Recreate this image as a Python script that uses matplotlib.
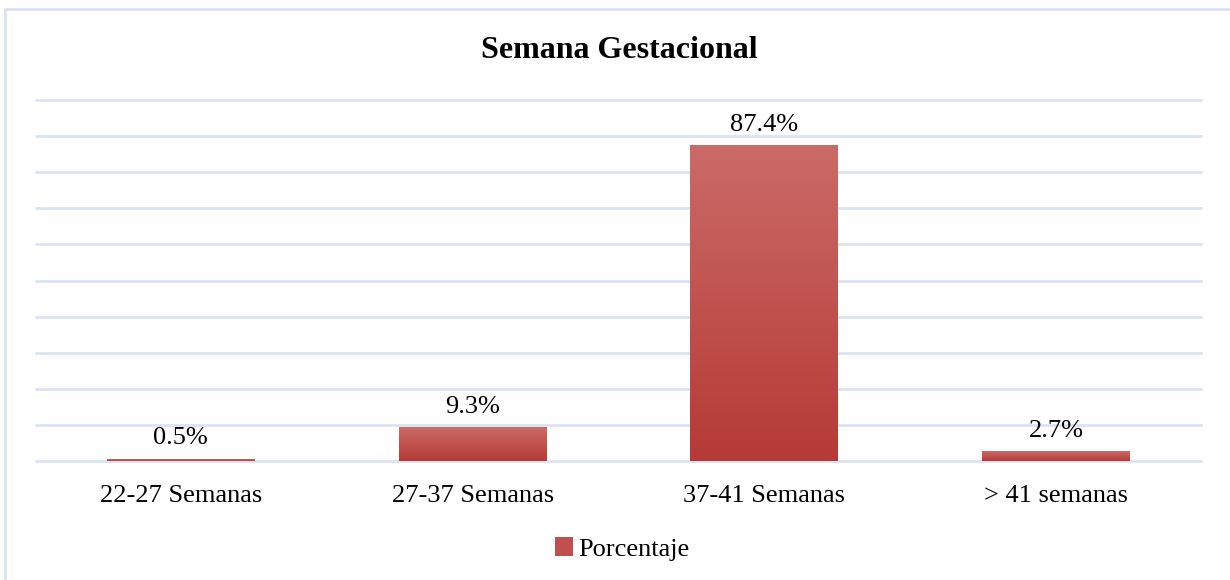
import matplotlib
matplotlib.use("Agg")
import matplotlib.pyplot as plt
import numpy as np
from matplotlib.colors import LinearSegmentedColormap
from matplotlib.patches import Patch, Rectangle

categories = ["22-27 Semanas", "27-37 Semanas", "37-41 Semanas", "> 41 semanas"]
porcentaje = [0.5, 9.3, 87.4, 2.7]
value_labels = ["0.5%", "9.3%", "87.4%", "2.7%"]

plt.rcParams["font.family"] = ["Liberation Serif", "DejaVu Serif"]

grid_color = "#D9E3F1"
top_red = "#CA6B68"
bottom_red = "#B63A35"
text_color = "#000000"
grad = LinearSegmentedColormap.from_list("bar_grad", [bottom_red, top_red])

fig = plt.figure(figsize=(12.3, 5.8), dpi=100)
# outer chart frame, only top and left edges fall inside the picture
fig.patches.append(Rectangle((5 / 1230, -0.05), 1.2, 1 - 9 / 580 + 0.05,
                             transform=fig.transFigure, fill=False,
                             edgecolor=grid_color, linewidth=2))

ax = fig.add_axes([35 / 1230, 119 / 580, 1167 / 1230, 361 / 580])
x = np.arange(len(categories))
bars = ax.bar(x, porcentaje, width=0.507, color="none", zorder=3)

# vertical gradient fill, lighter at the top of each bar
gradient = np.linspace(0, 1, 256).reshape(-1, 1)
for b in bars:
    x0, y0, w, h = b.get_x(), b.get_y(), b.get_width(), b.get_height()
    im = ax.imshow(gradient, cmap=grad, origin="lower", aspect="auto",
                   extent=[x0, x0 + w, y0, y0 + h], zorder=3)
    im.set_clip_path(b)

for xi, v, lab in zip(x, porcentaje, value_labels):
    ax.annotate(lab, (xi, v), xytext=(0, 7), textcoords="offset points",
                ha="center", va="bottom", fontsize=19, color=text_color)

ax.set_xlim(-0.5, len(categories) - 0.5)
ax.set_ylim(0, 100)
ax.set_yticks(np.arange(0, 101, 10))
ax.yaxis.grid(True, color=grid_color, linewidth=2, solid_capstyle="butt")
for gl in ax.get_ygridlines():
    gl.set_clip_on(False)
ax.set_axisbelow(True)
ax.set_yticklabels([])
ax.set_xticks(x)
ax.set_xticklabels(categories, fontsize=19, color=text_color)
ax.tick_params(axis="both", length=0, pad=17)
for s in ax.spines.values():
    s.set_visible(False)

fig.text(619 / 1230, 1 - 50 / 580, "Semana Gestacional", ha="center", va="center",
         fontsize=23, fontweight="bold", color=text_color)

handle = Patch(facecolor="#C0504D", edgecolor="none")
fig.legend([handle], ["Porcentaje"], loc="center", bbox_to_anchor=(622 / 1230, 1 - 549 / 580),
           frameon=False, fontsize=19, handlelength=0.7, handleheight=0.7,
           handletextpad=0.2, borderpad=0, labelcolor=text_color)

fig.savefig("out.png", dpi=100)
